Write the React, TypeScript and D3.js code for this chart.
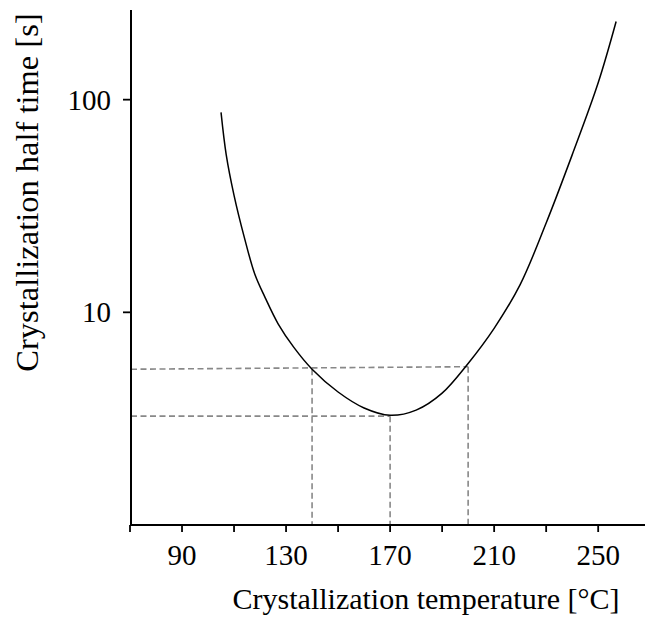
import React from "react";
import * as d3 from "d3";

const temps = [105, 107, 110, 114, 118, 122, 127, 133, 140, 150, 160, 170, 180, 190, 200, 210, 220, 230, 240, 250, 256.9];
const halfTimes = [87.1, 55.0, 35.5, 22.4, 15.1, 11.7, 8.81, 6.84, 5.40, 4.22, 3.55, 3.28, 3.47, 4.17, 5.75, 8.41, 13.5, 26.3, 55.0, 120, 233];

const xTicks = [70, 90, 110, 130, 150, 170, 190, 210, 230, 250];
const xLabels = [90, 130, 170, 210, 250];
const yTicks = [10, 100];

const guideTemps = [140, 170, 200];
const guideTimes = [5.4, 3.25, 5.55];

const xTitle = "Crystallization temperature [°C]";
const yTitle = "Crystallization half time [s]";

export default function App() {
  const W = 645, H = 619;
  const x = d3.scaleLinear().domain([70, 268]).range([130, 645]);
  const y = d3.scaleLog().domain([1, 264]).range([525, 10]);
  const pts = temps.map((t, i) => [t, halfTimes[i]] as [number, number]);
  const line = d3.line<[number, number]>()
    .x(d => x(d[0]))
    .y(d => y(d[1]))
    .curve(d3.curveCatmullRom.alpha(0.5));
  const font = "'Liberation Serif', 'Times New Roman', serif";
  const dash = { stroke: "#888", strokeWidth: 1.6, strokeDasharray: "6,3.5", fill: "none" };
  const x0 = x(70) + 1;
  return (
    <svg width={W} height={H} style={{ position: "absolute", left: 0, top: 0, background: "#fff" }} fontFamily={font}>
      <line x1={x0} y1={y(guideTimes[0])} x2={x(guideTemps[2])} y2={y(guideTimes[2])} style={dash} />
      <line x1={x0} y1={y(guideTimes[1])} x2={x(guideTemps[1])} y2={y(guideTimes[1])} style={dash} />
      {guideTemps.map((t, i) => (
        <line key={t} x1={x(t)} x2={x(t)} y1={y(guideTimes[i])} y2={525} style={dash} />
      ))}
      <path d={line(pts) || ""} fill="none" stroke="#000" strokeWidth={1.5} />
      <line x1={131} x2={131} y1={10} y2={526} stroke="#000" strokeWidth={2} />
      <line x1={130} x2={645} y1={525} y2={525} stroke="#000" strokeWidth={2} />
      {xTicks.map(t => (
        <line key={t} x1={x(t)} x2={x(t)} y1={525} y2={532} stroke="#000" strokeWidth={1.8} />
      ))}
      {xLabels.map(t => (
        <text key={t} x={x(t)} y={565} textAnchor="middle" fontSize={29}>{t}</text>
      ))}
      {yTicks.map(t => (
        <g key={t}>
          <line x1={123} x2={131} y1={y(t)} y2={y(t)} stroke="#000" strokeWidth={1.8} />
          <text x={111} y={y(t) + 10} textAnchor="end" fontSize={29}>{t}</text>
        </g>
      ))}
      <text x={426} y={609} textAnchor="middle" fontSize={30}>{xTitle}</text>
      <text transform={`translate(38,192.5) rotate(-90)`} textAnchor="middle" fontSize={32.5}>{yTitle}</text>
    </svg>
  );
}
